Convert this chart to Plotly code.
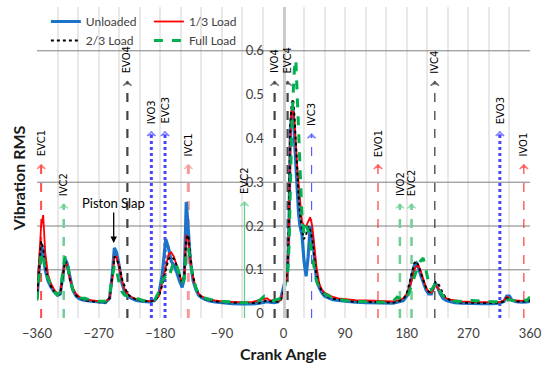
import plotly.graph_objects as go

# ---------------- data ----------------
angles = [-360, -357, -354, -351, -348, -344, -340, -335, -330, -326, -322, -319, -316, -312, -308,
          -303, -298, -290, -280, -270, -260, -254, -250, -247, -244, -240, -236, -232, -228, -222,
          -215, -205, -195, -188, -182, -177, -172, -168, -164, -160, -156, -152, -148, -145, -142,
          -139, -136, -132, -128, -124, -120, -114, -108, -100, -90, -75, -60, -45, -35, -28,
          -24, -20, -14, -8, -4, 0, 3, 6, 8, 10, 12, 14, 16, 18, 20,
          22, 24, 27, 30, 33, 36, 39, 42, 45, 48, 52, 56, 60, 66, 72,
          80, 90, 105, 120, 135, 150, 160, 166, 170, 175, 180, 184, 188, 191, 194,
          197, 200, 204, 208, 212, 216, 219, 222, 225, 229, 233, 238, 244, 250, 260,
          275, 290, 305, 315, 322, 326, 330, 334, 340, 348, 355, 360]

unloaded = [0.035, 0.09, 0.16, 0.14, 0.10, 0.075, 0.062, 0.05, 0.042, 0.045, 0.09, 0.125, 0.115, 0.08, 0.055,
            0.04, 0.034, 0.03, 0.028, 0.026, 0.025, 0.035, 0.09, 0.15, 0.14, 0.11, 0.07, 0.05, 0.04, 0.035,
            0.03, 0.028, 0.027, 0.03, 0.045, 0.09, 0.17, 0.15, 0.12, 0.11, 0.095, 0.075, 0.06, 0.08, 0.255,
            0.19, 0.12, 0.075, 0.055, 0.042, 0.037, 0.032, 0.029, 0.027, 0.025, 0.023, 0.022, 0.022, 0.024, 0.026,
            0.027, 0.026, 0.025, 0.027, 0.035, 0.06, 0.08, 0.10, 0.20, 0.42, 0.46, 0.47, 0.40, 0.33, 0.28,
            0.23, 0.20, 0.18, 0.12, 0.085, 0.13, 0.20, 0.18, 0.12, 0.08, 0.06, 0.048, 0.04, 0.035, 0.032,
            0.03, 0.028, 0.026, 0.025, 0.024, 0.024, 0.024, 0.026, 0.028, 0.03, 0.04, 0.06, 0.09, 0.11, 0.115,
            0.105, 0.09, 0.07, 0.055, 0.045, 0.045, 0.06, 0.07, 0.06, 0.045, 0.035, 0.03, 0.027, 0.025, 0.024,
            0.023, 0.023, 0.023, 0.024, 0.028, 0.04, 0.04, 0.03, 0.027, 0.026, 0.027, 0.028]

load_1_3 = [0.04, 0.12, 0.20, 0.225, 0.14, 0.09, 0.07, 0.055, 0.045, 0.048, 0.09, 0.12, 0.11, 0.08, 0.06,
            0.045, 0.038, 0.033, 0.03, 0.028, 0.027, 0.035, 0.08, 0.13, 0.13, 0.105, 0.075, 0.055, 0.045, 0.038,
            0.033, 0.03, 0.028, 0.03, 0.04, 0.07, 0.11, 0.135, 0.14, 0.13, 0.11, 0.09, 0.07, 0.08, 0.18,
            0.17, 0.12, 0.08, 0.058, 0.046, 0.04, 0.035, 0.032, 0.03, 0.028, 0.027, 0.026, 0.027, 0.03, 0.033,
            0.035, 0.03, 0.03, 0.028, 0.032, 0.05, 0.07, 0.095, 0.20, 0.40, 0.47, 0.46, 0.44, 0.38, 0.34,
            0.30, 0.26, 0.21, 0.20, 0.20, 0.21, 0.22, 0.20, 0.15, 0.11, 0.07, 0.055, 0.048, 0.042, 0.038,
            0.035, 0.033, 0.031, 0.03, 0.029, 0.028, 0.028, 0.03, 0.032, 0.035, 0.045, 0.06, 0.08, 0.10, 0.108,
            0.11, 0.10, 0.08, 0.06, 0.05, 0.048, 0.055, 0.065, 0.06, 0.048, 0.04, 0.035, 0.032, 0.03, 0.028,
            0.027, 0.026, 0.026, 0.026, 0.03, 0.038, 0.035, 0.03, 0.03, 0.029, 0.03, 0.034]

load_2_3 = [0.035, 0.10, 0.165, 0.15, 0.11, 0.08, 0.063, 0.05, 0.043, 0.045, 0.085, 0.12, 0.11, 0.078, 0.056,
            0.042, 0.035, 0.03, 0.028, 0.026, 0.026, 0.035, 0.085, 0.13, 0.125, 0.11, 0.08, 0.06, 0.045, 0.037,
            0.032, 0.029, 0.028, 0.03, 0.04, 0.065, 0.10, 0.125, 0.13, 0.125, 0.11, 0.09, 0.07, 0.09, 0.17,
            0.18, 0.13, 0.085, 0.06, 0.045, 0.038, 0.033, 0.03, 0.028, 0.026, 0.025, 0.024, 0.024, 0.025, 0.028,
            0.03, 0.028, 0.027, 0.027, 0.03, 0.05, 0.075, 0.10, 0.22, 0.43, 0.48, 0.49, 0.45, 0.38, 0.32,
            0.27, 0.23, 0.19, 0.17, 0.18, 0.20, 0.19, 0.17, 0.13, 0.09, 0.065, 0.05, 0.042, 0.037, 0.034,
            0.031, 0.029, 0.027, 0.026, 0.025, 0.025, 0.025, 0.027, 0.03, 0.033, 0.045, 0.07, 0.10, 0.115, 0.12,
            0.11, 0.095, 0.075, 0.06, 0.05, 0.05, 0.06, 0.072, 0.07, 0.06, 0.045, 0.035, 0.03, 0.027, 0.025,
            0.024, 0.024, 0.024, 0.025, 0.028, 0.035, 0.035, 0.03, 0.028, 0.027, 0.028, 0.03]

full_load = [0.03, 0.08, 0.14, 0.13, 0.10, 0.08, 0.065, 0.05, 0.043, 0.05, 0.10, 0.13, 0.12, 0.08, 0.055,
             0.042, 0.035, 0.035, 0.03, 0.028, 0.028, 0.04, 0.085, 0.11, 0.10, 0.07, 0.05, 0.042, 0.04, 0.04,
             0.035, 0.03, 0.028, 0.032, 0.05, 0.075, 0.085, 0.08, 0.10, 0.12, 0.11, 0.09, 0.07, 0.08, 0.14,
             0.15, 0.12, 0.08, 0.06, 0.045, 0.04, 0.035, 0.033, 0.03, 0.028, 0.026, 0.025, 0.025, 0.03, 0.04,
             0.035, 0.03, 0.03, 0.032, 0.035, 0.05, 0.07, 0.09, 0.15, 0.30, 0.42, 0.50, 0.56, 0.58, 0.50,
             0.38, 0.30, 0.22, 0.18, 0.20, 0.19, 0.16, 0.13, 0.10, 0.075, 0.06, 0.05, 0.045, 0.04, 0.036,
             0.033, 0.03, 0.028, 0.027, 0.026, 0.026, 0.028, 0.038, 0.035, 0.032, 0.035, 0.05, 0.07, 0.085, 0.10,
             0.11, 0.12, 0.127, 0.10, 0.07, 0.055, 0.06, 0.07, 0.065, 0.05, 0.04, 0.035, 0.03, 0.028, 0.028,
             0.03, 0.028, 0.027, 0.027, 0.03, 0.03, 0.032, 0.03, 0.03, 0.032, 0.03, 0.038]

series_names = ["Unloaded", "1/3 Load", "2/3 Load", "Full Load"]

# valve events: label, crank angle, arrow-tip height
event_names = ["EVC1", "IVC2", "EVO4", "IVO3", "EVC3", "IVC1", "EVC2", "IVO4",
               "EVC4", "IVC3", "EVO1", "IVO2", "EVC2", "IVC4", "EVO3", "IVO1"]
event_angles = [-354, -321, -228, -193, -173, -139, -57, -13,
                6, 41, 138, 170, 187, 221, 316, 351]
event_tops = [0.34, 0.25, 0.53, 0.415, 0.415, 0.34, 0.255, 0.53,
              0.53, 0.41, 0.34, 0.25, 0.25, 0.53, 0.415, 0.34]
event_kinds = ["red", "green", "black", "blue", "blue", "pink", "green_solid", "black",
               "black", "blue_thin", "red_thin", "green", "green", "black_thin", "blue", "red_thin"]

x_ticks = [-360, -270, -180, -90, 0, 90, 180, 270, 360]
y_ticks = [0, 0.1, 0.2, 0.3, 0.4, 0.5, 0.6, 0.7]
y_grid_visible = [0.1, 0.2, 0.3, 0.6]

# ---------------- styles ----------------
Y_MIN, Y_MAX = -0.01, 0.7
kind_style = {
    "red":        dict(color="#ff4d4d", dash="dash", width=2.0),
    "pink":       dict(color="#f59a9a", dash="dash", width=3.0),
    "red_thin":   dict(color="#ff3b3b", dash="dash", width=1.2),
    "green":      dict(color="#6fcf94", dash="dash", width=2.5),
    "green_solid": dict(color="#5fcf90", dash="solid", width=1.3),
    "black":      dict(color="#444444", dash="dash", width=2.2),
    "black_thin": dict(color="#333333", dash="dash", width=1.2),
    "blue":       dict(color="#4646ff", dash="dot", width=3.0),
    "blue_thin":  dict(color="#5a5aff", dash="dash", width=1.2),
}
series_styles = [
    dict(color="#1c74c8", width=3.2, dash="solid"),
    dict(color="#ff0000", width=1.8, dash="solid"),
    dict(color="#000000", width=2.0, dash="dot"),
    dict(color="#00b050", width=3.0, dash="dash"),
]
# left legend column: Unloaded, 2/3 Load ; right column: 1/3 Load, Full Load
series_legend = ["legend", "legend2", "legend", "legend2"]
FONT = "Lato"

fig = go.Figure()

# event lines with open arrowheads
for name, ang, top, kind in zip(event_names, event_angles, event_tops, event_kinds):
    st = kind_style[kind]
    fig.add_trace(go.Scatter(
        x=[ang, ang], y=[Y_MIN, top], mode="lines+markers",
        line=dict(color=st["color"], width=st["width"], dash=st["dash"]),
        marker=dict(symbol=["circle", "arrow-wide-open"], size=[0, 6], color=st["color"],
                    line=dict(color=st["color"], width=1.3)),
        showlegend=False, hoverinfo="skip"))
    fig.add_annotation(x=ang, y=top, text=name, textangle=-90, showarrow=False,
                       xanchor="center", yanchor="bottom", yshift=6,
                       font=dict(family="DejaVu Sans", size=10, color="#000000"))

# data series
for nm, vals, st, lg in zip(series_names, [unloaded, load_1_3, load_2_3, full_load],
                            series_styles, series_legend):
    fig.add_trace(go.Scatter(x=angles, y=vals, mode="lines", name=nm, legend=lg,
                             line=dict(color=st["color"], width=st["width"], dash=st["dash"])))

# visible horizontal grid lines
for gy in y_grid_visible:
    fig.add_shape(type="line", xref="x", yref="y", x0=-360, x1=360, y0=gy, y1=gy,
                  line=dict(color="#7f7f7f", width=1), layer="between")

fig.add_annotation(x=-248, y=0.161, text="Piston Slap", showarrow=True, ax=0, ay=-40,
                   arrowhead=2, arrowsize=1, arrowwidth=1.3, arrowcolor="#000000",
                   font=dict(family=FONT, size=13, color="#000000"))

fig.add_annotation(xref="paper", yref="paper", x=-0.038, y=0.45, text="<b>Vibration RMS</b>",
                   textangle=-90, showarrow=False, xanchor="center", yanchor="middle",
                   font=dict(family=FONT, size=16, color="#1a1a1a"))
fig.add_annotation(xref="paper", yref="paper", x=0.5, y=-0.113, text="<b>Crank Angle</b>",
                   showarrow=False, xanchor="center", yanchor="middle",
                   font=dict(family=FONT, size=16, color="#1a1a1a"))

legend_common = dict(orientation="v", xanchor="left", yanchor="top", bgcolor="rgba(0,0,0,0)",
                     font=dict(family=FONT, size=12, color="#404040"), itemwidth=30,
                     borderwidth=0, tracegroupgap=0)

fig.update_layout(
    width=549, height=368,
    margin=dict(l=37, r=15, t=7, b=50),
    paper_bgcolor="white", plot_bgcolor="white",
    legend=dict(x=0.018, y=1.0, **legend_common),
    legend2=dict(x=0.227, y=1.0, **legend_common),
    xaxis=dict(range=[-360, 360], tickvals=x_ticks, showgrid=True, gridcolor="#e8e8e8", gridwidth=2,
               minor=dict(dtick=30, tick0=0, showgrid=True, gridcolor="#e8e8e8", gridwidth=2),
               zeroline=False, showline=False, ticks="", ticklabelstandoff=6,
               tickfont=dict(family=FONT, size=13, color="#404040")),
    yaxis=dict(range=[Y_MIN, Y_MAX], tickvals=y_ticks, anchor="free", position=0.5, side="left",
               showgrid=False, zeroline=False, showline=True, linecolor="#cccccc", linewidth=3,
               ticks="", ticklabelstandoff=16,
               tickfont=dict(family=FONT, size=13, color="#404040")),
)

fig.write_html("out.html")
